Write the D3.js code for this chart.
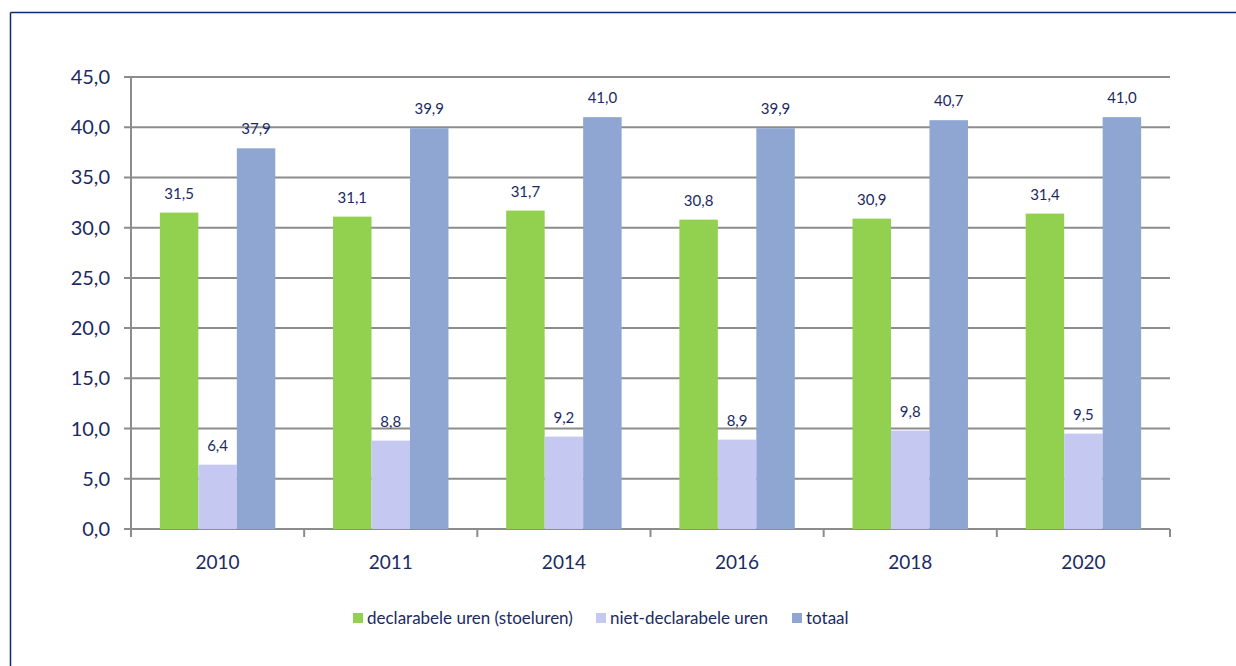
<!DOCTYPE html>
<html>
<head>
<meta charset="utf-8">
<script src="https://cdn.jsdelivr.net/npm/d3@7"></script>
<style>
  body { margin: 0; background: #fff; }
  svg text { font-family: Lato, "Open Sans", sans-serif; fill: #1b2a63; }
</style>
</head>
<body>
<script>
// chart data
var years = ["2010", "2011", "2014", "2016", "2018", "2020"];
var seriesNames = ["declarabele uren (stoeluren)", "niet-declarabele uren", "totaal"];
var declarabel = [31.5, 31.1, 31.7, 30.8, 30.9, 31.4];
var nietDeclarabel = [6.4, 8.8, 9.2, 8.9, 9.8, 9.5];
var totaal = [37.9, 39.9, 41.0, 39.9, 40.7, 41.0];
var yTicks = [0, 5, 10, 15, 20, 25, 30, 35, 40, 45];

var colors = ["#92d050", "#c5c8f1", "#8ea6d1"];
var series = [declarabel, nietDeclarabel, totaal];

var W = 1236, H = 666;
var margin = {top: 77, right: 66, bottom: 137, left: 131},
    width = W - margin.left - margin.right,
    height = H - margin.top - margin.bottom;

var svg = d3.select("body").append("svg")
    .attr("width", W)
    .attr("height", H);

// frame lines (top and left)
svg.append("line").attr("x1", 10.5).attr("x2", W).attr("y1", 12.5).attr("y2", 12.5)
    .attr("stroke", "#0d2a6e").attr("stroke-width", 1.5);
svg.append("line").attr("x1", 10.5).attr("x2", 10.5).attr("y1", 12.5).attr("y2", H)
    .attr("stroke", "#0d2a6e").attr("stroke-width", 1.5);

var g = svg.append("g")
    .attr("transform", "translate(" + margin.left + "," + margin.top + ")");

var x0 = d3.scaleBand().domain(years).range([0, width]);
// 3 bars plus a gap of 1.5 bar width per category
var gap = x0.bandwidth() * 0.75 / 4.5;
var x1 = d3.scaleBand().domain(d3.range(3)).range([gap, x0.bandwidth() - gap]);

var y = d3.scaleLinear().domain([0, 45]).range([height, 0]);

// gridlines
g.selectAll(".grid")
    .data(yTicks)
  .enter().append("line")
    .attr("class", "grid")
    .attr("x1", -7).attr("x2", width)
    .attr("y1", function(d) { return y(d); })
    .attr("y2", function(d) { return y(d); })
    .attr("stroke", "#8c8c8c").attr("stroke-width", 2);

// y axis line
g.append("line").attr("x1", 0).attr("x2", 0).attr("y1", 0).attr("y2", height)
    .attr("stroke", "#8c8c8c").attr("stroke-width", 2);

// x ticks at category boundaries
var bounds = years.map(function(d) { return x0(d); }).concat([width]);
g.selectAll(".xtick")
    .data(bounds)
  .enter().append("line")
    .attr("x1", function(d) { return d; }).attr("x2", function(d) { return d; })
    .attr("y1", height).attr("y2", height + 8)
    .attr("stroke", "#8c8c8c").attr("stroke-width", 2);

// y tick labels
g.selectAll(".ylab")
    .data(yTicks)
  .enter().append("text")
    .attr("x", -21)
    .attr("y", function(d) { return y(d); })
    .attr("dy", "0.35em")
    .attr("text-anchor", "end")
    .style("font-size", "20px")
    .text(function(d) { return d3.format(".1f")(d).replace(".", ","); });

// x labels
g.selectAll(".xlab")
    .data(years)
  .enter().append("text")
    .attr("x", function(d) { return x0(d) + x0.bandwidth() / 2; })
    .attr("y", height + 40)
    .attr("text-anchor", "middle")
    .style("font-size", "19px")
    .text(function(d) { return d; });

// bars
series.forEach(function(vals, si) {
  var grp = g.append("g");
  grp.selectAll("rect")
      .data(vals)
    .enter().append("rect")
      .attr("x", function(d, i) { return x0(years[i]) + x1(si); })
      .attr("width", x1.bandwidth())
      .attr("y", function(d) { return y(d); })
      .attr("height", function(d) { return height - y(d); })
      .attr("fill", colors[si]);

  grp.selectAll("text")
      .data(vals)
    .enter().append("text")
      .attr("x", function(d, i) { return x0(years[i]) + x1(si) + x1.bandwidth() / 2; })
      .attr("y", function(d) { return y(d) - 14; })
      .attr("text-anchor", "middle")
      .style("font-size", "15px")
      .text(function(d) { return d3.format(".1f")(d).replace(".", ","); });
});

// legend
var legendX = [353, 596, 792];
var legend = svg.selectAll(".legend")
    .data(seriesNames)
  .enter().append("g")
    .attr("transform", function(d, i) { return "translate(" + legendX[i] + ",618)"; });
legend.append("rect")
    .attr("x", 0).attr("y", -5).attr("width", 10).attr("height", 10)
    .attr("fill", function(d, i) { return colors[i]; });
legend.append("text")
    .attr("x", 14).attr("y", 0).attr("dy", "0.35em")
    .style("font-size", "17px")
    .text(function(d) { return d; });
</script>
</body>
</html>
